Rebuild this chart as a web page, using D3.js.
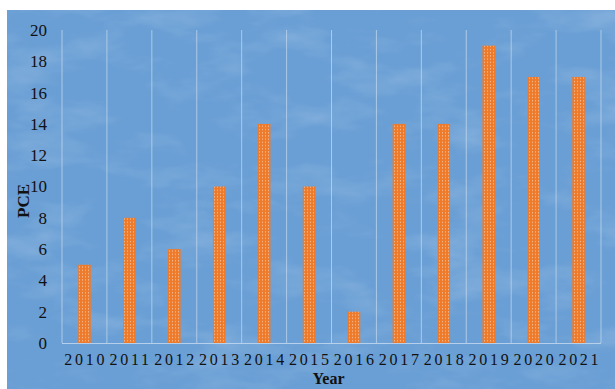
<!DOCTYPE html>
<html>
<head>
<meta charset="utf-8">
<script src="https://cdn.jsdelivr.net/npm/d3@7"></script>
<style>
  html, body { margin: 0; padding: 0; background: #ffffff; }
  svg { display: block; }
</style>
</head>
<body>
<svg id="chart" width="615" height="389"></svg>
<script>
// PCE by year
const years = ["2010", "2011", "2012", "2013", "2014", "2015", "2016", "2017", "2018", "2019", "2020", "2021"];
const pce = [5, 8, 6, 10, 14, 10, 2, 14, 14, 19, 17, 17];
const yTicks = [0, 2, 4, 6, 8, 10, 12, 14, 16, 18, 20];

const W = 615, H = 389;
const margin = { left: 62, right: 14, top: 30, bottom: 46 };
const svg = d3.select("#chart");
const defs = svg.append("defs");

// Textured blue backdrop
const tex = defs.append("filter").attr("id", "swirl")
  .attr("x", 0).attr("y", 0).attr("width", "100%").attr("height", "100%");
tex.append("feTurbulence").attr("type", "fractalNoise")
  .attr("baseFrequency", "0.012 0.03").attr("numOctaves", 4).attr("seed", 7).attr("result", "n");
tex.append("feColorMatrix").attr("in", "n").attr("type", "matrix")
  .attr("values", "0 0 0 0 1  0 0 0 0 1  0 0 0 0 1  2.2 0 0 0 -1.05");

// Dotted orange fill for bars
const pat = defs.append("pattern").attr("id", "dots")
  .attr("patternUnits", "userSpaceOnUse").attr("width", 3).attr("height", 3.2);
pat.append("rect").attr("width", 3).attr("height", 3.2).attr("fill", "#ee7b2c");
pat.append("rect").attr("x", 1).attr("y", 1).attr("width", 1).attr("height", 1).attr("fill", "#f8cfae");

svg.append("rect").attr("x", 7).attr("y", 10).attr("width", W - 7).attr("height", H - 10)
  .attr("fill", "#6a9fd5");
svg.append("rect").attr("x", 7).attr("y", 10).attr("width", W - 7).attr("height", H - 10)
  .attr("filter", "url(#swirl)").attr("opacity", 0.18);

const x = d3.scaleBand().domain(years)
  .range([margin.left, W - margin.right])
  .paddingInner(0.72).paddingOuter(0.36);
const y = d3.scaleLinear().domain([0, 20]).range([H - margin.bottom, margin.top]);

const step = x.step();
const bounds = years.map(d => x(d) - step * 0.36).concat([W - margin.right]);

// Vertical gridlines at category boundaries
svg.append("g").selectAll("line").data(bounds).join("line")
  .attr("x1", d => d).attr("x2", d => d)
  .attr("y1", y(20)).attr("y2", y(0))
  .attr("stroke", "#c9dcf0").attr("stroke-opacity", 0.7).attr("stroke-width", 1);

// Baseline
svg.append("line")
  .attr("x1", margin.left).attr("x2", W - margin.right)
  .attr("y1", y(0) + 0.5).attr("y2", y(0) + 0.5)
  .attr("stroke", "#c9dcf0").attr("stroke-opacity", 0.8);

// Bars
svg.append("g").selectAll("rect").data(years).join("rect")
  .attr("x", (d) => x(d))
  .attr("width", x.bandwidth())
  .attr("y", (d, i) => y(pce[i]))
  .attr("height", (d, i) => y(0) - y(pce[i]))
  .attr("fill", "url(#dots)");

// Y axis
const yAxis = d3.axisLeft(y).tickValues(yTicks).tickSize(0).tickPadding(15);
const gy = svg.append("g").attr("transform", `translate(${margin.left},0)`).call(yAxis);
gy.select(".domain").remove();
gy.selectAll("text")
  .attr("font-family", "'Liberation Serif', 'Times New Roman', serif")
  .attr("font-size", 17).attr("fill", "#111");

// X axis
const xAxis = d3.axisBottom(x).tickSize(0).tickPadding(11);
const gx = svg.append("g").attr("transform", `translate(0,${y(0)})`).call(xAxis);
gx.select(".domain").remove();
gx.selectAll("text")
  .attr("font-family", "'Liberation Serif', 'Times New Roman', serif")
  .attr("font-size", 16).attr("letter-spacing", "2.7px").attr("dx", "1.3")
  .attr("fill", "#111");

// Axis titles
svg.append("text")
  .attr("x", (margin.left + W - margin.right) / 2 - 3).attr("y", 384)
  .attr("text-anchor", "middle")
  .attr("font-family", "'Liberation Serif', 'Times New Roman', serif")
  .attr("font-size", 16).attr("font-weight", "bold").attr("fill", "#111")
  .text("Year");

svg.append("text")
  .attr("transform", "translate(29,201) rotate(-90)")
  .attr("text-anchor", "middle")
  .attr("font-family", "'Liberation Serif', 'Times New Roman', serif")
  .attr("font-size", 17).attr("font-weight", "bold").attr("fill", "#111")
  .text("PCE");
</script>
</body>
</html>
